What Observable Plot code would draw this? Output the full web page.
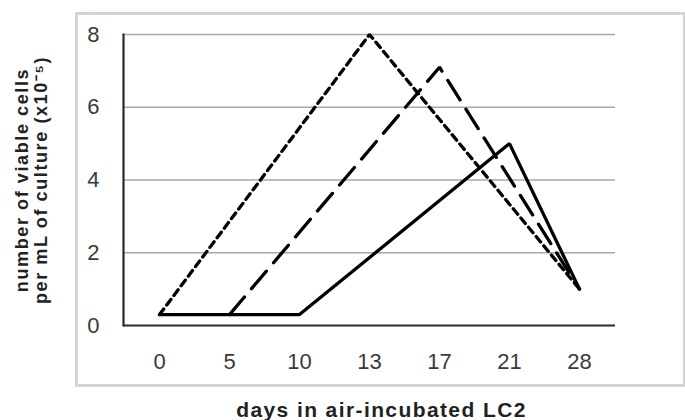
<!DOCTYPE html>
<html>
<head>
<meta charset="utf-8">
<script src="https://cdn.jsdelivr.net/npm/d3@7"></script>
<script src="https://cdn.jsdelivr.net/npm/@observablehq/plot@0.6"></script>
<style>
  html, body { margin: 0; padding: 0; background: #fff; }
  #wrap { position: relative; width: 685px; height: 420px; }
  #border { position: absolute; left: 75px; top: 12px; width: 605px; height: 369px;
            border: 3px solid #d4d4d4; box-sizing: content-box; pointer-events: none; }
  .xlab text { letter-spacing: 1.4px; }
  .ylab text { letter-spacing: 1.6px; }
</style>
</head>
<body>
<div id="wrap"><div id="border"></div></div>
<script>
const days = ["0", "5", "10", "13", "17", "21", "28"];
const yTicks = [0, 2, 4, 6, 8];
const gridTicks = [2, 4, 6, 8];

// series: dotted (short dash), long dash, solid
const dottedDays = ["0", "13", "28"];
const dottedValues = [0.3, 8.0, 1.0];
const longDashDays = ["5", "17", "28"];
const longDashValues = [0.3, 7.1, 1.0];
const solidDays = ["0", "5", "10", "21", "28"];
const solidValues = [0.3, 0.3, 0.3, 5.0, 1.0];

const xLabel = "days in air-incubated LC2";
const yLabel = "number of viable cells\nper mL of culture (x10\u207B\u2075)";

const toRows = (ds, vs) => ds.map((d, i) => ({day: d, value: vs[i]}));
const dotted = toRows(dottedDays, dottedValues);
const longDash = toRows(longDashDays, longDashValues);
const solid = toRows(solidDays, solidValues);

const font = "'Liberation Sans', Arial, sans-serif";

const chart = Plot.plot({
  width: 685,
  height: 420,
  marginLeft: 123,
  marginRight: 70,
  marginTop: 34,
  marginBottom: 95,
  style: {fontFamily: font, background: "transparent", overflow: "visible"},
  x: {type: "point", domain: days, padding: 0.5, label: null},
  y: {domain: [0, 8], ticks: yTicks, label: null},
  marks: [
    Plot.ruleY(gridTicks, {stroke: "#a8a8a8", strokeWidth: 1.4}),
    Plot.axisY({ticks: yTicks, tickSize: 0, tickPadding: 24, fontSize: 22, fill: "#3a3a3a", label: null}),
    Plot.axisX({tickSize: 0, tickPadding: 28, fontSize: 22, fill: "#3a3a3a", label: null}),
    Plot.ruleY([0], {stroke: "#2a2a2a", strokeWidth: 2.2}),
    Plot.frame({anchor: "left", stroke: "#2a2a2a", strokeWidth: 2.2}),
    Plot.line(dotted, {x: "day", y: "value", stroke: "#000", strokeWidth: 3.3, strokeDasharray: "7,5", strokeLinejoin: "miter"}),
    Plot.line(longDash, {x: "day", y: "value", stroke: "#000", strokeWidth: 3.3, strokeDasharray: "23,11", strokeLinejoin: "miter"}),
    Plot.line(solid, {x: "day", y: "value", stroke: "#000", strokeWidth: 3.3, strokeLinejoin: "miter"}),
    Plot.text([xLabel], {className: "xlab", frameAnchor: "bottom", dy: 85, dx: 12, fontSize: 21, fontWeight: "bold", fill: "#222", textAnchor: "middle", lineAnchor: "middle", text: d => d}),
    Plot.text([yLabel], {className: "ylab", frameAnchor: "left", dx: -92, rotate: -90, fontSize: 18, fontWeight: "bold", fill: "#222", textAnchor: "middle", lineAnchor: "middle", lineHeight: 1.02, text: d => d})
  ]
});
document.getElementById("wrap").prepend(chart);
</script>
</body>
</html>
